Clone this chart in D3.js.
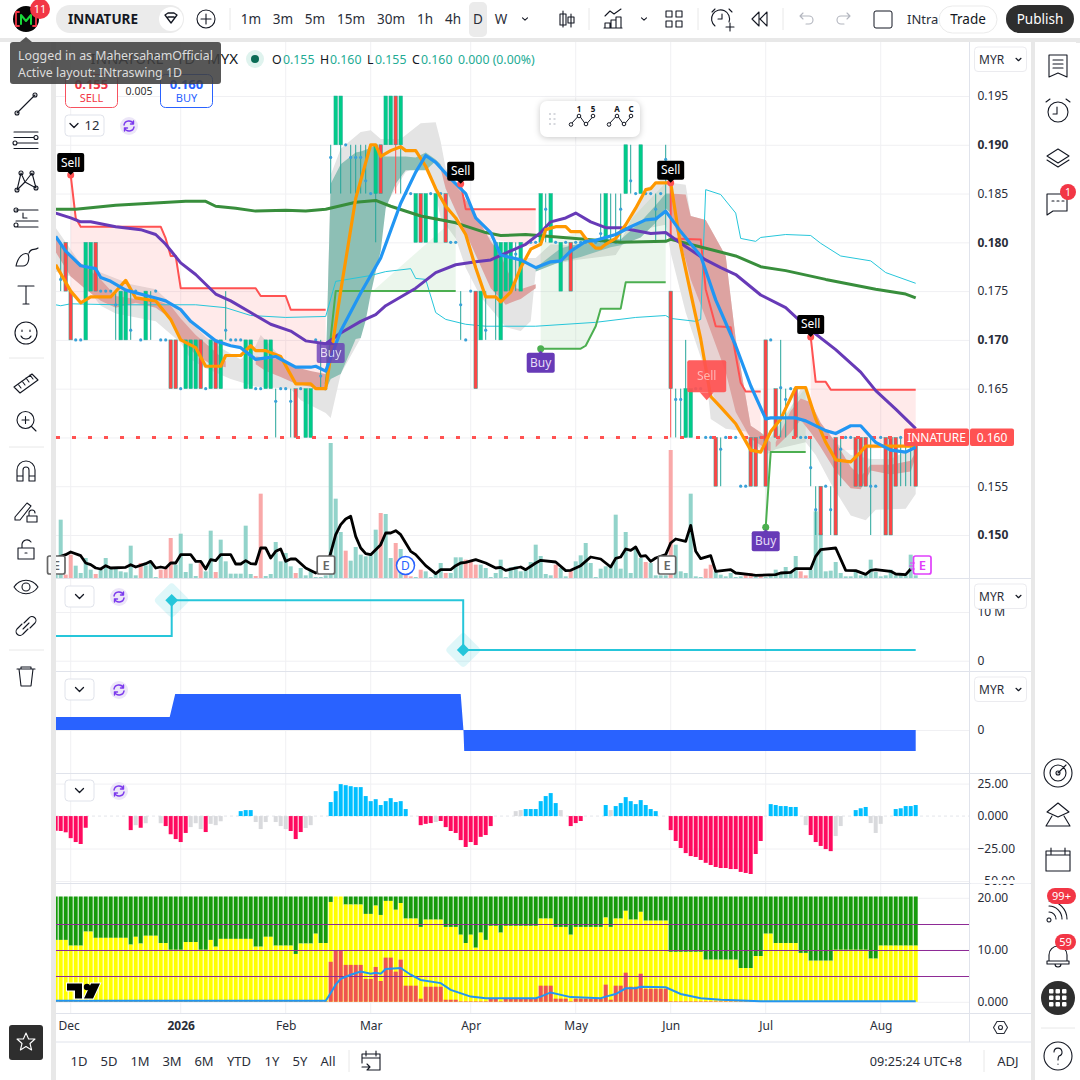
<!DOCTYPE html>
<html>
<head>
<meta charset="utf-8">
<title>INNATURE 1D</title>
<script src="https://cdnjs.cloudflare.com/ajax/libs/d3/7.8.5/d3.min.js"></script>
<style>
  html, body { margin: 0; padding: 0; background: #fff; }
  svg { display: block; font-family: "Noto Sans", sans-serif; }
</style>
</head>
<body>
<div id="chart"></div>
<script>
// ── Data ────────────────────────────────────────────────────
const monthIdx = [3, 25, 46, 63, 83, 104, 123, 142, 165];
const monthLabels = ['Dec', '2026', 'Feb', 'Mar', 'Apr', 'May', 'Jun', 'Jul', 'Aug'];
const priceTicks = [0.150, 0.155, 0.160, 0.165, 0.170, 0.175, 0.180, 0.185, 0.190, 0.195];
const boldTicks = [0.150, 0.170, 0.180, 0.190];
const lastPrice = 0.160;

// candles: [bar, bodyTop, bodyBottom, wickLow?, wickHigh?]
const greenCandles = [[6,.180,.170],[7,.180,.175],[13,.175,.170],[14,.175,.170],[18,.175,.170],[26,.170,.165],[27,.170,.165],[28,.170,.165],
  [31,.170,.165],[33,.170,.165],[38,.170,.165],[39,.170,.165],[42,.170,.165],[43,.170,.165],[50,.165,.160],[51,.165,.160],[56,.195,.190],
  [57,.195,.190,.185],[64,.190,.185,.180],[66,.195,.190],[67,.195,.190],[69,.195,.190,.185],[72,.185,.180],[74,.185,.180],[76,.185,.180],
  [85,.175,.170],[88,.180,.175,.170],[89,.180,.170],[90,.180,.175],[91,.180,.175],[93,.180,.175],[97,.185,.180],[99,.185,.180],[101,.180,.175],
  [110,.185,.180],[114,.190,.185],[117,.190,.185],[126,.165,.160,.160,.170],[127,.165,.160]];
const redCandles = [[2,.180,.175],[3,.175,.170],[8,.180,.175],[23,.170,.165],[24,.170,.165],[29,.170,.165],[32,.170,.165],[48,.165,.160],
  [65,.190,.185],[68,.195,.190,.185],[73,.185,.180],[78,.185,.180],[84,.175,.165],[103,.180,.175],[123,.175,.165,.160],[132,.160,.155],
  [139,.160,.155],[140,.160,.155],[142,.170,.155],[144,.165,.160],[148,.165,.160],[153,.155,.150],[156,.160,.150],[160,.160,.155],[161,.160,.155],
  [162,.160,.155],[166,.160,.150],[167,.160,.150],[168,.160,.155],[172,.160,.155]];
// thin bars: [bar, high, low, mid dot]
const thinBars = [[1,.180,.175,.1762],[12,.175,.170,.1736],[15,.175,.170,.171],[19,.175,.170,.174],[34,.175,.170,.171],[44,.165,.160,.1637],
  [47,.165,.160,.1637],[53,.170,.165,.1663],[55,.190,.185,.1887],[59,.190,.185,.1887],[60,.190,.185,.1887],[61,.190,.185,.1887],[62,.190,.185,.1863],
  [81,.175,.170,.1736],[86,.175,.170,.171],[92,.180,.175,.1788],[98,.185,.180,.1834],[109,.185,.180,.1809],[111,.185,.180,.180],[112,.185,.180,.180],
  [113,.185,.180,.1834],[115,.190,.185,.1863],[120,.185,.180,.1834],[122,.190,.180,.1885],[124,.165,.160,.1639],[125,.165,.160,.1639],
  [133,.160,.155,.1588],[145,.170,.160,.1651],[146,.165,.160,.1639],[151,.160,.155,.1569],[152,.155,.150,.1526],[155,.155,.150,.1526],
  [157,.160,.155,.1588],[163,.160,.150,.155],[169,.160,.155,.160],[170,.160,.155,.160],[171,.160,.155,.160]];
// flat bars, drawn as a dot: [bar, price]
const flatBars = [[4,.170],[5,.170],[9,.175],[10,.175],[11,.175],[16,.175],[17,.170],[20,.175],[21,.170],[22,.170],[25,.165],[30,.165],[35,.170],[36,.170],
  [37,.170],[40,.165],[41,.165],[45,.165],[46,.165],[49,.165],[52,.170],[54,.165],[58,.190],[63,.185],[70,.185],[71,.185],[75,.185],[77,.185],[79,.180],[80,.180],
  [82,.170],[83,.175],[95,.180],[96,.180],[100,.180],[102,.180],[104,.180],[105,.180],[106,.180],[107,.180],[108,.180],[116,.185],[118,.185],[119,.185],[121,.185],
  [128,.165],[129,.165],[130,.160],[131,.160],[134,.160],[135,.160],[136,.160],[137,.155],[138,.155],[141,.160],[143,.170],[147,.165],[149,.160],[150,.160],
  [154,.155],[158,.160],[159,.160],[164,.155],[165,.160]];

const orangeLine = [[0,.1777],[3,.175],[5,.1738],[7,.1744],[11,.1744],[14,.1761],[16,.1743],[20,.174],[23,.1721],[25,.17],[28,.1692],[30,.1673],[33,.1673],[34,.1684],
  [37,.1684],[39,.1694],[40,.1689],[42,.1689],[45,.1683],[48,.1655],[51,.1655],[52,.165],[54,.165],[57,.175],[60,.1845],[63,.19],[64,.19],[65,.1888],[67,.1894],[69,.1898],
  [70,.1894],[72,.1894],[74,.1878],[76,.1855],[78,.1837],[80,.1825],[82,.1808],[84,.1774],[86,.1744],[88,.1744],[89,.1739],[91,.1749],[93,.1774],[95,.1793],[97,.1798],
  [98,.1813],[100,.1816],[102,.1816],[103,.1811],[105,.1811],[106,.1804],[108,.1794],[109,.1794],[110,.1798],[112,.1804],[114,.1818],[116,.1835],[118,.1854],[119,.1855],
  [120,.1861],[122,.1861],[123,.1861],[125,.1796],[127,.1748],[129,.1701],[131,.1642],[133,.1631],[136,.1614],[139,.1587],[141,.1585],[143,.1606],[145,.1619],[148,.1651],
  [150,.1651],[152,.1619],[154,.1595],[156,.1577],[159,.1575],[161,.1585],[162,.1591],[172,.1591]];
const blueLine = [[0,.1806],[2,.1791],[5,.1776],[8,.1773],[9,.1764],[11,.176],[14,.1751],[20,.1743],[22,.174],[25,.1731],[27,.1719],[30,.1707],[32,.1699],[35,.1694],
  [37,.1692],[40,.168],[44,.1683],[48,.1672],[51,.1672],[52,.1673],[54,.1668],[57,.1709],[61,.1748],[65,.1784],[69,.184],[72,.1872],[74,.1889],[76,.1882],[79,.1865],
  [82,.185],[84,.1825],[87,.181],[89,.1787],[93,.1782],[96,.1774],[99,.178],[101,.1781],[103,.1791],[106,.1801],[108,.1802],[112,.1808],[115,.1816],[118,.1823],[120,.1824],
  [122,.1832],[125,.1811],[129,.1786],[132,.1741],[136,.1694],[139,.1653],[142,.1619],[143,.162],[148,.162],[150,.1617],[154,.1607],[156,.1604],[159,.1612],[161,.1612],
  [164,.1595],[167,.1587],[170,.1585],[172,.159]];
const purpleLine = [[0,.183],[3,.1825],[5,.1821],[7,.1821],[12,.1816],[17,.1813],[20,.1808],[22,.1798],[25,.1779],[28,.1767],[32,.1747],[35,.174],[39,.1728],[43,.1716],
  [47,.1709],[50,.1699],[54,.1696],[57,.1707],[61,.1719],[64,.1726],[66,.1735],[72,.1753],[76,.1769],[80,.1777],[84,.178],[87,.1782],[90,.1789],[94,.1798],[97,.181],
  [99,.1821],[102,.1825],[104,.183],[107,.1821],[110,.1815],[113,.1815],[119,.1809],[122,.181],[125,.1799],[130,.1782],[133,.1774],[136,.1767],[141,.1746],[146,.1733],
  [150,.1714],[156,.169],[161,.1667],[164,.1648],[168,.1629],[172,.1609]];
const greenLine = [[0,.1834],[4,.1834],[12,.1838],[19,.184],[26,.1842],[30,.1842],[32,.1837],[36,.1835],[40,.1832],[46,.1833],[50,.1832],[54,.1834],[60,.1841],[64,.1843],
  [67,.1837],[73,.1827],[80,.182],[86,.181],[89,.1807],[94,.1808],[99,.1806],[104,.1804],[113,.18],[122,.1801],[123,.1803],[130,.1794],[136,.1786],[141,.1775],[146,.1771],
  [154,.1762],[164,.1752],[170,.1747],[172,.1743]];
const cyanLine = [[0,.1736],[1,.1735],[3,.1737],[12,.1736],[28,.1736],[34,.1733],[39,.1725],[46,.1723],[54,.1724],[56,.176],[63,.1766],[66,.177],[71,.1773],[72,.1763],
  [74,.1762],[76,.1728],[78,.1721],[82,.1716],[86,.1714],[96,.1714],[108,.1718],[116,.1723],[122,.1725],[123,.1722],[128,.1719],[129,.1721],[130,.1854],[133,.1849],
  [136,.183],[137,.1804],[140,.1801],[141,.1805],[146,.1808],[151,.1807],[153,.1799],[157,.1786],[163,.1781],[166,.1769],[172,.1758]];

const sellStops = [
  [[3,.1869],[4,.1825],[5,.1816],[21,.1816],[22,.1804],[23,.1786],[24,.1786],[25,.1753],[40,.1753],[41,.1745],[46,.1745],[47,.1731],[54,.1731]],
  [[81,.186],[82,.1834],[96,.1834]],
  [[123,.1861],[123,.1804],[129,.1803],[130,.1752],[132,.1714],[135,.1713],[137,.1656],[138,.1647],[141,.1647]],
  [[151,.1703],[152,.1657],[154,.1657],[155,.1649],[172,.1649]]
];
const buyStops = [
  [[54,.1655],[56,.175],[80,.175]],
  [[97,.1691],[105,.1691],[106,.1694],[108,.1714],[109,.1732],[113,.1732],[114,.1759],[122,.1759]],
  [[142,.1508],[143,.1585],[150,.1585]]
];
const sellSignals = [[3,.1869],[81,.186],[123,.1861],[151,.1703]];
const buySignals = [[55,.1701],[97,.1691],[142,.1508]];
const alertSell = [130, .1638];

const greyUpper = [[0,.1815],[2,.18],[5,.1778],[9,.1769],[15,.1757],[20,.1752],[25,.1728],[30,.1703],[33,.1692],[37,.168],[40,.1694],[41,.1705],[44,.1688],[48,.1665],
  [54,.1655],[55,.1869],[57,.1896],[61,.1913],[63,.1915],[65,.1906],[69,.1906],[73,.1922],[76,.1923],[77,.1903],[78,.1876],[81,.1855],[84,.1818],[87,.1804],[89,.1787],
  [93,.1784],[96,.1784],[99,.1798],[105,.1796],[113,.1801],[118,.1855],[122,.1867],[123,.1861],[126,.1859],[127,.1827],[130,.1823],[134,.1786],[136,.1701],[139,.1612],
  [141,.1605],[143,.16],[147,.163],[149,.165],[150,.1651],[152,.1619],[156,.1595],[159,.1582],[163,.1578],[167,.1578],[172,.1591]];
const greyLower = [[0,.177],[5,.1762],[9,.1735],[12,.1727],[20,.1719],[25,.1697],[27,.168],[30,.1671],[35,.166],[40,.1652],[47,.165],[49,.1638],[54,.1625],[55,.162],[57,.1665],
  [61,.1702],[63,.1757],[66,.1838],[70,.1872],[74,.1881],[76,.1849],[77,.1825],[80,.1804],[82,.1774],[85,.1744],[88,.1726],[90,.1713],[93,.1709],[95,.1719],[96,.177],
  [99,.1777],[104,.1782],[112,.1787],[115,.1811],[122,.1818],[123,.1789],[126,.1728],[130,.1667],[131,.1619],[134,.1609],[138,.1606],[141,.1588],[142,.1582],[144,.1588],
  [150,.1595],[152,.1582],[155,.1553],[159,.152],[162,.1515],[164,.1526],[170,.1527],[172,.1542]];
// ribbons: [bar, upper, lower]
const redRibbons = [
  [[0,.1805,.179],[3,.1786,.1765],[6,.1775,.1752],[9,.1762,.174],[12,.1745,.1733],[16,.1742,.1738],[20,.1741,.1733],[23,.1735,.1722],[25,.1722,.17],[28,.1705,.1685],[31,.1692,.1675],[34,.1678,.1672]],
  [[40,.1683,.1675],[42,.1682,.1668],[45,.168,.1662],[48,.1672,.1655],[51,.1668,.1652],[54,.1665,.1648]],
  [[77,.188,.1875],[78,.1869,.1855],[81,.1852,.1821],[84,.1828,.1787],[87,.1801,.1753],[89,.1787,.1742],[90,.1775,.1736],[92,.1753,.174],[93,.1752,.1742],[96,.1757,.1753]],
  [[123,.185,.183],[126,.1849,.1782],[127,.1827,.1762],[130,.1823,.1723],[134,.1786,.1667],[136,.1701,.1626],[139,.1612,.1599],[141,.1605,.1592],[143,.1595,.1585]],
  [[144,.1595,.159],[147,.1627,.1605],[149,.164,.1618],[151,.1636,.1605],[153,.1615,.159],[156,.1595,.1565],[159,.157,.1548],[161,.156,.1547],[163,.1572,.1566],[167,.1572,.1562],[171,.1576,.1565],[172,.1585,.158]]
];
const tealRibbons = [
  [[54,.1665,.1648],[55,.186,.166],[57,.188,.1665],[60,.1892,.1701],[61,.1893,.1702],[62,.1895,.172],[63,.1897,.1747],[64,.19,.177],[65,.1889,.1791],[66,.1888,.1835],[68,.1888,.186],[70,.1888,.1874],[72,.1887,.1874],[74,.1892,.1874],[76,.1885,.1883],[77,.188,.1875]],
  [[96,.1774,.177],[101,.1794,.178],[105,.1799,.1785],[111,.1804,.1795],[113,.1803,.1797],[117,.1821,.1805],[120,.1838,.182],[122,.185,.1835],[123,.185,.183]]
];

const volumes = [10,175,10,70,37,15,60,25,12,25, 60,30,30,20,17,97,8,45,38,45, 3,25,30,120,40,133,18,43,6,45, 20,142,18,115,50,13,13,13,157,12,
  6,253,6,12,108,50,75,35,15,30, 8,22,3,3,8,405,238,138,82,52, 93,70,65,68,145,195,192,60,105,87, 45,5,3,25,20,3,12,45,15,15,
  62,62,55,50,40,40,30,3,15,55, 3,32,35,20,25,48,100,66,12,8, 40,30,5,22,50,68,105,45,3,28, 35,35,190,28,138,15,90,60,48,45,
  8,8,8,384,100,20,15,253,5,3, 28,40,20,10,5,15,3,5,10,15, 3,5,3,10,25,12,33,20,66,20, 8,25,200,135,20,22,48,15,5,5,
  18,8,8,55,18,5,8,25,8,10, 8,70,8];
const volumeDown = [2,3,8,17,21,22,23,29,32,40,41,48,58,65,68,70,71,73,78,82,83,84,100,103,118,123,130,131,138,139,141,149,150];
const blackLine = [[0,60],[2,70],[3,78],[5,67],[6,45],[7,40],[8,30],[9,27],[10,37],[11,30],[14,32],[15,40],[16,33],[18,43],[19,50],[20,30],[21,33],[22,30],[23,45],[24,45],[25,70],[27,70],
  [28,50],[29,50],[30,27],[31,55],[32,52],[33,70],[35,70],[36,42],[37,42],[38,52],[39,43],[40,42],[41,90],[42,90],[43,60],[44,80],[45,87],[46,50],[47,57],[48,57],[50,30],[52,15],
  [54,25],[55,75],[56,130],[57,160],[58,177],[59,185],[60,125],[61,90],[62,73],[63,70],[65,100],[66,135],[67,135],[68,142],[69,130],[71,80],[72,70],[74,37],[76,13],[77,25],[79,25],
  [80,37],[81,45],[82,47],[84,55],[86,45],[88,30],[89,32],[90,23],[92,30],[93,33],[94,25],[96,45],[97,53],[100,48],[102,22],[103,23],[105,37],[107,63],[109,57],[111,33],[112,59],
  [113,63],[114,87],[115,83],[116,93],[117,65],[118,67],[119,50],[120,60],[122,70],[123,105],[124,117],[126,110],[127,158],[128,80],[129,58],[131,67],[132,20],[135,25],[136,15],
  [139,10],[140,8],[144,10],[145,15],[147,17],[148,28],[151,28],[152,65],[153,85],[156,90],[158,23],[160,22],[162,11],[163,23],[164,25],[167,20],[168,12],[170,10],[171,27]];

const stepIdx = [-1, 23.2, 23.2, 81.5, 81.5, 172];
const stepVal = [5.07, 5.07, 12.4, 12.4, 2.2, 2.2];
const bandIdx = [-1, 22.8, 23.9, 81, 81.55, 81.7, 172];
const bandTop = [13, 13, 36, 36, 0, 0, 0];
const bandBottom = [0, 0, 0, 0, 0, -21, -21];

const histogram = [-11.3,-11.5,-12.5,-17,-20,-21.5,-9,0,0,0, 0,0,0,0,0,-10.8,-7,-9,-5.5,0, 0,-5.5,-7.7,-14,-17.7,-20,-13,-8.5,-5.5,-10, -12.3,-6,-7,-4,0,0,0,3.8,4.6,4.6,
  -4.6,-10,-4.6,0,-4.6,-7.7,-10,-11.5,-17.7,-12.3, -9.2,-7,0,0,0,10.8,19.2,24.6,23.8,23, 22.3,22.3,15.4,11.5,13,8.5,11.5,13.8,10.8,11.5, 5.4,0,0,-7,-6,-5.4,-4.6,-3.8,-8.5,-11.5,
  -13,-18.5,-23.8,-20,-22.3,-16,-14.6,-7.7,0,0, 0,0,3.8,4.6,5.4,5.4,5.4,11.5,15.4,17.7, 10,4.6,0,-7.7,-5.4,-3.8,0,0,0,0, 8.5,4.6,7.7,10,14.6,11.5,9.2,12.3,8.5,5.4,
  3.8,0,0,-10.8,-19.2,-24.6,-28.5,-30.8,-31.5,-33.8, -36,-37.7,-39.2,-40,-40,-40.8,-40.8,-43,-43.8,-44.6, -29.2,-19.2,0,9.2,8.5,7.7,7.7,7,7,0,
  -7,-14.6,-20,-23,-25.4,-27,-15.4,-7.7,0,0, 4.6,6,7,-5.4,-13,-6,0,0,5.4,6, 7.7,7.7,8.5];
const histGrey = [16,18,21,27,28,29,31,32,33,40,41,42,44,45,46,50,51,76,92,93,101,111,150,156,157,163,164,165];

const yellowTops = [11.9,11.9,11.9,10.8,10.8,10.8,13.5,13.5,12.3,12.3, 12.3,12.3,12.3,12.3,12.3,11,12.5,11.2,12.7,12.7, 12.7,11.3,11.3,10,10,10,11.5,11.5,11.5,10,
  10,11.9,10.6,12.1,12.1,12.1,12.1,12.1,12.1,12.1, 10.6,10.6,12.5,12.5,10.8,10.8,10.8,10.8,9.2,11.2, 11.2,11.2,13.1,11.3,11.3,19.2,20.25,20.25,18.7,18.7,
  18.7,18.7,16.9,16.9,18.5,16.7,19.4,19.4,17.7,19, 16,16,16,14.4,15.8,15.8,15.8,15.8,14.4,14.4, 14.4,12.9,11.3,12.9,10.4,13.3,11.9,14.6,14.6,13.3,
  14.6,14.6,14.6,14.6,14.6,14.6,14.6,16,16,16, 14.4,14.4,14.4,12.9,14.4,14.4,14.4,14.4,14.4,14.4, 16.2,14.4,16,16,17.5,15.8,15.8,17.3,15.6,15.6,
  15.6,15.6,15.6,9.6,9.6,9.6,9.6,9.6,9.6,9.6, 8.1,8.1,8.1,8.1,8.1,8.1,8.1,6.5,6.5,6.5, 8.8,8.8,13.1,13.1,11.3,11.3,11.3,11.3,11.3,9.4,
  9.4,7.9,7.9,7.9,7.9,7.9,10,10,10,10, 10,10,10,8.3,8.3,10.8,10.8,10.8,10.8,10.8, 10.8,10.8,10.8];
const redTops = [.1,.1,.1,.1,.1,.1,.1,.1,.1,.1, .1,.1,.1,.1,.1,.1,.1,.1,.1,.1, .1,.1,.1,.1,.1,.1,.1,.1,.1,.1, .1,.1,.1,.1,.1,.1,.1,.1,.1,.1,
  .1,.1,.1,.1,.1,.1,.1,.1,.1,.1, .1,.1,.1,.1,.1,7.7,9.8,9.8,7.1,7.1, 7.1,7.1,4.4,4.4,6.7,4,8.5,8.5,5.8,8.1, 3.1,3.1,3.1,.6,2.9,2.9,2.9,2.9,.4,.4,
  .4,.1,.1,.1,.1,.1,.1,.6,.6,.1, .6,.6,.6,.7,.7,.7,.7,3.1,3.1,3.1, .6,.6,.6,.1,.6,.6,.6,.6,.6,.6, 3.3,.4,3.1,3.1,5.6,2.9,2.9,5.4,2.5,2.5,
  2.5,2.5,2.5,.1,.1,.1,.1,.1,.1,.1, .1,.1,.1,.1,.1,.1,.1,.1,.1,.1, .1,.1,0,0,0,0,0,0,0,0, 0,0,0,0,0,0,0,0,0,0, 0,0,0,0,0,0,0,0,0,0, 0,0,0];
const stackBlue = [[-1,.2],[54,.2],[55,1.7],[56,3.3],[57,4.4],[59,5.2],[61,5.8],[63,5.4],[64,5.6],[65,5.4],[66,6.3],[69,6.5],[71,5.2],[73,4.2],[77,3.6],[79,2.3],[83,1],[86,.7],[96,.7],
  [97,1],[99,1.8],[103,.9],[109,.7],[110,1],[112,1.5],[114,2.6],[116,2.6],[117,2.9],[122,2.8],[125,1.5],[129,.7],[133,.4],[141,.1],[172,.1]];
const stackLevels = [5, 10, 15];
const histTicks = [25, 0, -25, -50];
const stackTicks = [20, 10, 0];

const rangeLabels = ['1D', '5D', '1M', '3M', '6M', 'YTD', '1Y', '5Y', 'All'];
const intervalLabels = ['1m', '3m', '5m', '15m', '30m', '1h', '4h', 'D', 'W'];

// ── Scales ───────────────────────────────────────────────────
const W = 1080, H = 1080;
const left = 56, axisX = 969.5;
const x = d3.scaleLinear().domain([0, 172]).range([55.7, 915.7]);
const yMain = d3.scaleLinear().domain([0.150, 0.195]).range([535, 96]);
const yVol = d3.scaleLinear().domain([0, 405]).range([578, 443]);
const yStep = d3.scaleLinear().domain([0, 10]).range([660.7, 612]);
const yBand = d3.scaleLinear().domain([-21, 36]).range([751, 694]);
const yHist = d3.scaleLinear().domain([-50, 25]).range([881, 783.6]);
const yStack = d3.scaleLinear().domain([0, 20]).range([1001.8, 897.8]);

const svg = d3.select('#chart').append('svg').attr('width', W).attr('height', H);
const defs = svg.append('defs');
const clip = (id, a, b) => defs.append('clipPath').attr('id', id).append('rect')
  .attr('x', left).attr('y', a).attr('width', axisX - left).attr('height', b - a);
clip('clip-main', 42, 578);
clip('clip-step', 579, 671);
clip('clip-band', 672, 773);
clip('clip-hist', 774, 883);
clip('clip-stack', 884, 1013);

const sepColor = '#e0e3eb', gridColor = '#f0f0f3';

// ── Grid ────────────────────────────────────────────────────
const gridG = svg.append('g');
function hGrid(values, scale) {
  gridG.selectAll(null).data(values).join('line')
    .attr('x1', left).attr('x2', axisX)
    .attr('y1', d => scale(d) + .5).attr('y2', d => scale(d) + .5)
    .attr('stroke', gridColor);
}
hGrid(priceTicks, yMain);
hGrid([10, 0], yStep);
hGrid([0], yBand);
hGrid([25, -25, -50], yHist);
hGrid(stackTicks, yStack);
gridG.selectAll(null).data(monthIdx).join('line')
  .attr('x1', d => x(d)).attr('x2', d => x(d))
  .attr('y1', 42).attr('y2', 1013)
  .attr('stroke', gridColor);

// ── Main pane ────────────────────────────────────────────────
const main = svg.append('g').attr('clip-path', 'url(#clip-main)');

main.append('g').selectAll('rect').data(volumes).join('rect')
  .attr('x', (d, i) => x(i) - 2).attr('width', 4)
  .attr('y', d => yVol(d)).attr('height', d => yVol(0) - yVol(d))
  .attr('fill', (d, i) => volumeDown.includes(i) ? '#f9a9a9' : '#92d3ca');

const priceLine = d3.line().x(d => x(d[0])).y(d => yMain(d[1]));

// grey envelope
main.append('path')
  .attr('d', priceLine(greyUpper.concat(greyLower.slice().reverse())) + 'Z')
  .attr('fill', '#e4e4e4');

// light fills between the stop lines and the fast line
function orangeAt(i) {
  const j = d3.bisector(d => d[0]).left(orangeLine, i);
  if (j === 0) return orangeLine[0][1];
  const a = orangeLine[j - 1], b = orangeLine[j] || a;
  return b === a ? a[1] : a[1] + (b[1] - a[1]) * (i - a[0]) / (b[0] - a[0]);
}
const stopFill = d3.area().x(d => x(d[0])).y0(d => yMain(d[1])).y1(d => yMain(orangeAt(d[0])));
main.append('g').selectAll('path').data(sellStops).join('path')
  .attr('d', stopFill).attr('fill', 'rgba(255,82,82,0.12)');
main.append('g').selectAll('path').data(buyStops).join('path')
  .attr('d', stopFill).attr('fill', 'rgba(76,175,80,0.11)');

// ribbon
const ribbon = d3.area().x(d => x(d[0])).y0(d => yMain(d[1])).y1(d => yMain(d[2]));
main.append('g').selectAll('path').data(redRibbons).join('path')
  .attr('d', ribbon).attr('fill', '#dda3a1');
main.append('g').selectAll('path').data(tealRibbons).join('path')
  .attr('d', ribbon).attr('fill', '#8dbfb5');

// thin line and stops
function drawLine(data, color, width) {
  return main.append('path').attr('d', priceLine(data)).attr('fill', 'none')
    .attr('stroke', color).attr('stroke-width', width).attr('stroke-linejoin', 'round');
}
drawLine(cyanLine, '#26c6da', 1);

// candles
const wickColor = '#26a69a';
main.append('g').selectAll('line').data(thinBars).join('line')
  .attr('x1', d => x(d[0])).attr('x2', d => x(d[0]))
  .attr('y1', d => yMain(d[1])).attr('y2', d => yMain(d[2]))
  .attr('stroke', wickColor);
main.append('g').selectAll('circle').data(thinBars).join('circle')
  .attr('cx', d => x(d[0])).attr('cy', d => yMain(d[3])).attr('r', 1.6).attr('fill', '#3aa2d8');
main.append('g').selectAll('circle').data(flatBars).join('circle')
  .attr('cx', d => x(d[0])).attr('cy', d => yMain(d[1])).attr('r', 1.6).attr('fill', '#3aa2d8');

function drawCandles(rows, fill, wick) {
  const g = main.append('g');
  g.selectAll('line').data(rows.filter(d => d.length > 3)).join('line')
    .attr('x1', d => x(d[0])).attr('x2', d => x(d[0]))
    .attr('y1', d => yMain(d[4] || d[1])).attr('y2', d => yMain(d[3]))
    .attr('stroke', wick);
  g.selectAll('rect').data(rows).join('rect')
    .attr('x', d => x(d[0]) - 1.75).attr('width', 3.5)
    .attr('y', d => yMain(d[1])).attr('height', d => yMain(d[2]) - yMain(d[1]))
    .attr('fill', fill).attr('stroke', wickColor).attr('stroke-width', .5);
}
drawCandles(greenCandles, '#00cc88', wickColor);
drawCandles(redCandles, '#ff4545', '#ff5252');

sellStops.forEach(d => drawLine(d, '#ff5252', 2));
buyStops.forEach(d => drawLine(d, '#4caf50', 2));

// last price dashes
main.append('line')
  .attr('x1', 56).attr('x2', 905)
  .attr('y1', yMain(lastPrice)).attr('y2', yMain(lastPrice))
  .attr('stroke', '#ff5252').attr('stroke-width', 3).attr('stroke-dasharray', '4 12');

drawLine(greenLine, '#388e3c', 3);
drawLine(purpleLine, '#673ab7', 3);
drawLine(orangeLine, '#ff9800', 3.2);
drawLine(blueLine, '#2196f3', 3.2);

// volume pane line
main.append('path')
  .attr('d', d3.line().x(d => x(d[0])).y(d => yVol(d[1]))(blackLine))
  .attr('fill', 'none').attr('stroke', '#000').attr('stroke-width', 2.8).attr('stroke-linejoin', 'round');

// signal flags
function flag(cx, cy, label, fill, w, h, textFill, opacity) {
  const g = svg.append('g').attr('opacity', opacity === undefined ? 1 : opacity);
  g.append('rect').attr('x', cx - w / 2).attr('y', cy - h / 2).attr('width', w).attr('height', h)
    .attr('rx', 2).attr('fill', fill);
  g.append('text').attr('x', cx).attr('y', cy + 4).attr('text-anchor', 'middle')
    .attr('font-size', 12).attr('fill', textFill).text(label);
  return g;
}
sellSignals.forEach(d => {
  svg.append('circle').attr('cx', x(d[0])).attr('cy', yMain(d[1])).attr('r', 3.5).attr('fill', '#ff5252');
  svg.append('path').attr('d', `M${x(d[0]) - 4},${yMain(d[1]) - 4}h8l-4,4z`).attr('fill', '#000');
  flag(x(d[0]), yMain(d[1]) - 12.5, 'Sell', '#000', 27, 19, '#fff');
});
buySignals.forEach((d, n) => {
  if (n > 0) svg.append('circle').attr('cx', x(d[0])).attr('cy', yMain(d[1])).attr('r', 3.5).attr('fill', '#4caf50');
  svg.append('path').attr('d', `M${x(d[0]) - 4},${yMain(d[1]) + 6}h8l-4,-4z`).attr('fill', '#673ab7');
  flag(x(d[0]), yMain(d[1]) + 14, 'Buy', '#673ab7', 28, 20, '#e6dcf7', n === 0 ? 0.78 : 1);
});
const alertG = flag(x(alertSell[0]) + 1, yMain(alertSell[1]) - 24, 'Sell', '#ff5252', 39, 32, '#ffb3b3', 0.92);
alertG.append('path')
  .attr('d', `M${x(alertSell[0]) - 6},${yMain(alertSell[1]) - 8}h14l-7,8z`).attr('fill', '#ff5252');

// event badges
function eventBadge(cx, text, stroke) {
  svg.append('rect').attr('x', cx - 8.5).attr('y', 556).attr('width', 17.5).attr('height', 18).attr('rx', 2)
    .attr('fill', '#fff').attr('stroke', stroke).attr('stroke-width', 1.7);
  svg.append('text').attr('x', cx + .5).attr('y', 570).attr('text-anchor', 'middle')
    .attr('font-size', 13).attr('font-weight', 600).attr('fill', stroke).text(text);
}
eventBadge(56, 'E', '#666');
eventBadge(325.7, 'E', '#666');
eventBadge(666.7, 'E', '#666');
eventBadge(922, 'E', '#e040fb');
svg.append('path').attr('d', 'M910,563h5M909,566h5M910,569h5').attr('fill', 'none').attr('stroke', '#e040fb').attr('stroke-width', 1);
svg.append('circle').attr('cx', 405.5).attr('cy', 565.5).attr('r', 9).attr('fill', '#fff').attr('stroke', '#2962ff').attr('stroke-width', 1.5);
svg.append('text').attr('x', 405.5).attr('y', 570).attr('text-anchor', 'middle').attr('font-size', 12).attr('fill', '#2962ff').text('D');

// ── Step pane ────────────────────────────────────────────────
const stepG = svg.append('g').attr('clip-path', 'url(#clip-step)');
const stepLine = d3.line().x(d => x(d[0])).y(d => yStep(d[1]));
stepG.append('path').attr('d', stepLine(d3.zip(stepIdx, stepVal))).attr('fill', 'none')
  .attr('stroke', '#26c6da').attr('stroke-width', 2);
[[stepIdx[2], stepVal[2]], [stepIdx[4], stepVal[4]]].forEach(d => {
  const cx = x(d[0]), cy = yStep(d[1]);
  stepG.append('rect').attr('x', cx - 13).attr('y', cy - 13).attr('width', 26).attr('height', 26).attr('rx', 4)
    .attr('transform', `rotate(45 ${cx} ${cy})`).attr('fill', 'rgba(38,198,218,0.15)');
  stepG.append('rect').attr('x', cx - 4.5).attr('y', cy - 4.5).attr('width', 9).attr('height', 9)
    .attr('transform', `rotate(45 ${cx} ${cy})`).attr('fill', '#26c6da');
});

// ── Band pane ────────────────────────────────────────────────
svg.append('g').attr('clip-path', 'url(#clip-band)').append('path')
  .attr('d', d3.area().x(d => x(d[0])).y0(d => yBand(d[2])).y1(d => yBand(d[1]))(d3.zip(bandIdx, bandTop, bandBottom)))
  .attr('fill', '#2962ff');

// ── Histogram pane ───────────────────────────────────────────
const histG = svg.append('g').attr('clip-path', 'url(#clip-hist)');
histG.append('line').attr('x1', left).attr('x2', axisX).attr('y1', yHist(0)).attr('y2', yHist(0))
  .attr('stroke', '#e3e5ea').attr('stroke-dasharray', '3 3');
histG.selectAll('rect').data(histogram).join('rect')
  .attr('x', (d, i) => x(i) - 2).attr('width', 4)
  .attr('y', d => Math.min(yHist(d), yHist(0)))
  .attr('height', d => Math.abs(yHist(d) - yHist(0)))
  .attr('fill', (d, i) => histGrey.includes(i) ? '#d9dadd' : d > 0 ? '#00bfff' : '#ff0a5f');

// ── Stack pane ───────────────────────────────────────────────
const stackG = svg.append('g').attr('clip-path', 'url(#clip-stack)');
const stackTop = 20.25;
stackG.append('g').selectAll('rect').data(yellowTops).join('rect')
  .attr('x', (d, i) => x(i) - 2).attr('width', 4)
  .attr('y', yStack(stackTop)).attr('height', d => yStack(d) - yStack(stackTop))
  .attr('fill', '#169b0b');
stackG.append('g').selectAll('rect').data(yellowTops).join('rect')
  .attr('x', (d, i) => x(i) - 2).attr('width', 4)
  .attr('y', d => yStack(d)).attr('height', d => yStack(0) - yStack(d))
  .attr('fill', '#ffff00');
stackG.append('g').selectAll('rect').data(redTops).join('rect')
  .attr('x', (d, i) => x(i) - 2).attr('width', 4)
  .attr('y', d => yStack(d)).attr('height', d => yStack(0) - yStack(d))
  .attr('fill', '#ef5350');
stackG.append('g').selectAll('line').data(stackLevels).join('line')
  .attr('x1', left).attr('x2', axisX)
  .attr('y1', d => Math.round(yStack(d)) + .5).attr('y2', d => Math.round(yStack(d)) + .5)
  .attr('stroke', '#8e2a96');
stackG.append('path').attr('d', d3.line().x(d => x(d[0])).y(d => yStack(d[1]))(stackBlue))
  .attr('fill', 'none').attr('stroke', '#2196f3').attr('stroke-width', 2);

// TV watermark
const tv = svg.append('g').attr('transform', 'translate(67,983.5)');
tv.append('path').attr('d', 'M0,0h15v15h-7v-8h-8z M17,15l7,-15h9l-7,15z').attr('fill', '#000').attr('stroke', '#fff').attr('stroke-width', 2).attr('paint-order', 'stroke');
tv.append('circle').attr('cx', 20).attr('cy', 3.5).attr('r', 3.2).attr('fill', '#000');

// ── Axes ─────────────────────────────────────────────────────
function rightAxis(scale, ticks, fmt) {
  const g = svg.append('g').attr('transform', `translate(${axisX},0)`)
    .call(d3.axisRight(scale).tickValues(ticks).tickSize(0).tickPadding(8).tickFormat(fmt));
  g.select('.domain').remove();
  g.selectAll('text').attr('font-family', '"Noto Sans", sans-serif').attr('font-size', 12).attr('fill', '#2a2e39');
  return g;
}
const priceAxis = rightAxis(yMain, priceTicks, d3.format('.3f'));
priceAxis.selectAll('text').attr('font-weight', d => boldTicks.includes(d) ? 700 : 400);

const fmtHist = d => d === 0 ? '0.000' : d3.format('.2f')(d).replace('-', '−');
rightAxis(yStep, [10, 0], d => d === 0 ? '0' : '10 M');
rightAxis(yBand, [0], () => '0');
rightAxis(yHist, histTicks, fmtHist);
rightAxis(yStack, stackTicks, fmtHist);

const timeAxis = svg.append('g').attr('transform', 'translate(0,1021)')
  .call(d3.axisBottom(x).tickValues(monthIdx).tickSize(0).tickPadding(0).tickFormat((d, i) => monthLabels[i]));
timeAxis.select('.domain').remove();
timeAxis.selectAll('text').attr('font-family', '"Noto Sans", sans-serif').attr('font-size', 12).attr('fill', '#2a2e39')
  .attr('font-weight', d => d === 25 ? 700 : 400);
timeAxis.selectAll('text').filter(d => d === 3).attr('dx', -2);

// ── Chrome: separators and gutters ───────────────────────────
const frame = svg.append('g');
frame.selectAll('rect').data([[0, 38, W, 4], [51, 38, 5, H - 38], [1031, 38, 4, H - 38], [1076, 38, 4, 5]]).join('rect')
  .attr('x', d => d[0]).attr('y', d => d[1]).attr('width', d => d[2]).attr('height', d => d[3]).attr('fill', '#e8e8e8');
frame.selectAll('line.sep').data([578.5, 671.5, 773.5, 883.5, 1013.5, 1042]).join('line')
  .attr('x1', left).attr('x2', 1031).attr('y1', d => d).attr('y2', d => d).attr('stroke', sepColor);
frame.append('line').attr('x1', axisX).attr('x2', axisX).attr('y1', 42).attr('y2', 1042).attr('stroke', sepColor);
frame.append('rect').attr('x', axisX + 1).attr('y', 880).attr('width', 60).attr('height', 3.5).attr('fill', '#fff');

function button(xp, yp, w, h, stroke) {
  return svg.append('rect').attr('x', xp).attr('y', yp).attr('width', w).attr('height', h).attr('rx', 3.5)
    .attr('fill', '#fff').attr('stroke', stroke || '#e0e3eb');
}
function label(xp, yp, text, size, color, anchor, weight) {
  return svg.append('text').attr('x', xp).attr('y', yp).attr('font-size', size).attr('fill', color || '#131722')
    .attr('text-anchor', anchor || 'start').attr('font-weight', weight || 400).text(text);
}
function icon(cx, cy, d, opts) {
  opts = opts || {};
  return svg.append('path').attr('transform', `translate(${cx},${cy})`).attr('d', d)
    .attr('fill', opts.fill || 'none').attr('stroke', opts.stroke || '#131722')
    .attr('stroke-width', opts.width || 1.1).attr('stroke-linejoin', 'round').attr('stroke-linecap', 'round');
}
const chevron = 'M-4,-2L0,2L4,-2';
const chevronSmall = 'M-2.5,-1.2L0,1.2L2.5,-1.2';

// MYR selectors
[47, 584, 677].forEach(yp => {
  button(974.5, yp, 52, 24.5, '#ebebef');
  label(979, yp + 16.5, 'MYR', 12, '#2a2e39');
  icon(1018.5, yp + 12.5, chevronSmall, { width: 1.2 });
});
// pane controls
[[65, 115, 39], [65, 586, 29], [65, 679, 29], [65, 780, 29]].forEach(d => {
  button(d[0], d[1], d[2], 21);
  icon(d[0] + (d[2] > 30 ? 9 : 14.5), d[1] + 10.5, chevron, { width: 1.3 });
  const cy = d[1] + 11, cx = d[2] > 30 ? 129 : 119;
  svg.append('circle').attr('cx', cx).attr('cy', cy).attr('r', 9).attr('fill', '#ece6f8');
  icon(cx, cy, 'M-5,-1A5,5 0 0 1 4.5,-2M5,1A5,5 0 0 1 -4.5,2M4.5,-5V-2H1.5M-4.5,5V2H-1.5', { stroke: '#7c3aed', width: 1.4 });
});
label(92, 130, '12', 13, '#2a2e39', 'middle');

// legend + order buttons
label(238, 64, 'INNATURE · 1D · MYX', 15, '#131722', 'end');
svg.append('circle').attr('cx', 255).attr('cy', 59).attr('r', 9).attr('fill', '#dff3ee');
svg.append('circle').attr('cx', 255).attr('cy', 59).attr('r', 4).attr('fill', '#0a6b55');
const ohlc = [['O', '0.155', 272, 283], ['H', '0.160', 320, 330], ['L', '0.155', 367, 375], ['C', '0.160', 412, 421]];
ohlc.forEach(d => {
  label(d[2], 63.5, d[0], 12.3, '#131722');
  label(d[3], 63.5, d[1], 12.3, '#22ab94');
});
label(458, 63.5, '0.000 (0.00%)', 12.3, '#22ab94');

button(65.5, 74.5, 52, 33, '#f7525f').attr('rx', 5);
button(160.5, 74.5, 52, 33, '#2962ff').attr('rx', 5);
label(91.5, 89, '0.155', 13, '#f23645', 'middle', 700);
label(91.5, 102, 'SELL', 11, '#f23645', 'middle');
label(186.5, 89, '0.160', 13, '#2962ff', 'middle', 700);
label(186.5, 102, 'BUY', 11, '#2962ff', 'middle');
label(139, 95, '0.005', 10.5, '#333', 'middle');

// last price labels
svg.append('rect').attr('x', 904).attr('y', 428.5).attr('width', 65).attr('height', 17.5).attr('rx', 2).attr('fill', '#ff5252');
svg.append('rect').attr('x', 970).attr('y', 428.5).attr('width', 44).attr('height', 17.5).attr('rx', 2).attr('fill', '#ff5252');
label(936.5, 442, 'INNATURE', 12, '#fff', 'middle');
label(992, 442, '0.160', 12, '#fff', 'middle');

// floating wave toolbar
svg.append('rect').attr('x', 540).attr('y', 101).attr('width', 100).attr('height', 36).attr('rx', 7).attr('fill', '#fff')
  .style('filter', 'drop-shadow(0 1px 3px rgba(0,0,0,.22))');
d3.range(2).forEach(c => d3.range(3).forEach(r => svg.append('rect').attr('x', 549 + c * 4.5).attr('y', 113 + r * 5).attr('width', 2).attr('height', 2).attr('fill', '#d6d8dd')));
[[571, '1', '5'], [609, 'A', 'C']].forEach(d => {
  icon(d[0], 120, 'M0,4L7,-3.5M9,-3.5L14,3.5M16,3.5L22,-3.5', { width: 1 });
  [[0, 4.5], [8, -4], [15, 4], [22, -4]].forEach(p => svg.append('circle').attr('cx', d[0] + p[0]).attr('cy', 120 + p[1]).attr('r', 1.8).attr('fill', '#fff').attr('stroke', '#131722'));
  label(d[0] + 8, 112, d[1], 8, '#131722', 'middle', 700);
  label(d[0] + 22, 112, d[2], 8, '#131722', 'middle', 700);
});

// ── Top toolbar ──────────────────────────────────────────────
svg.append('circle').attr('cx', 26).attr('cy', 19).attr('r', 13).attr('fill', '#050505');
icon(26, 19, 'M-5,5V-4L0,2L5,-4V5', { stroke: '#19d639', width: 2 });
icon(26, 19, 'M-7,-7H-10V7H-7M7,-7H10V7H7', { stroke: '#f23645', width: 1.8 });
svg.append('circle').attr('cx', 40).attr('cy', 9).attr('r', 10).attr('fill', '#f23645');
label(40, 13, '11', 11, '#fff', 'middle');
svg.append('rect').attr('x', 56).attr('y', 5).attr('width', 128).attr('height', 28).attr('rx', 14).attr('fill', '#ebebeb');
label(68, 24, 'INNATURE', 13.5, '#131722', 'start', 700);
svg.append('circle').attr('cx', 171).attr('cy', 19).attr('r', 12).attr('fill', '#fff');
icon(171, 19, 'M-6,-4L-3,-6H3L6,-4L0,4ZM-3,-2H3', { width: 1.3 });
icon(206, 19, 'M-9,0A9,9 0 1 1 9,0A9,9 0 1 1 -9,0M-5,0H5M0,-5V5', {});
svg.append('rect').attr('x', 469).attr('y', 2).attr('width', 18).attr('height', 35).attr('rx', 5).attr('fill', '#ebebeb');
const intervalX = [251, 283, 315, 351, 391, 425, 453, 478, 501];
intervalLabels.forEach((d, i) => label(intervalX[i], 24, d, 13.5, '#2a2e39', 'middle'));
icon(525, 19, chevronSmall, { width: 1.1 });
[230, 589, 698, 783].forEach(xp => svg.append('line').attr('x1', xp).attr('x2', xp).attr('y1', 8).attr('y2', 30).attr('stroke', '#e8e8e8'));
icon(567, 19, 'M-4,-8V8M-7,-5H-1V6H-7ZM4,-5V8M1,-2H7V4H1Z', {});
icon(613, 19, 'M-8,-3L-3,-8L1,-5L8,-10M-8,9V4H-3V9ZM-2,9V1H3V9ZM3,9V-2H8V9ZM-9,9H9', {});
icon(644, 19, chevronSmall, {});
icon(674, 19, 'M-8,-8h6v6h-6zM2,-8h6v6h-6zM-8,2h6v6h-6zM2,2h6v6h-6z', {});
icon(722, 19, 'M-7,7A9,9 0 1 1 7,3M0,-5V0H-4M-10,-7L-7,-10M10,-7L7,-10M4,8H12M8,4V12', {});
icon(760, 19, 'M-1,-7L-8,0L-1,7ZM7,-7L0,0L7,7Z', {});
icon(806, 19, 'M-6,-3H3A4,4 0 0 1 3,5H0M-6,-3L-3,-6M-6,-3L-3,0', { stroke: '#b2b5be' });
icon(844, 19, 'M6,-3H-3A4,4 0 0 0 -3,5H0M6,-3L3,-6M6,-3L3,0', { stroke: '#b2b5be' });
svg.append('rect').attr('x', 874).attr('y', 11).attr('width', 18).attr('height', 17).attr('rx', 2).attr('fill', 'none').attr('stroke', '#131722');
label(907, 24, 'INtra', 13, '#2a2e39');
svg.append('rect').attr('x', 939).attr('y', 6).attr('width', 58).attr('height', 27).attr('rx', 13.5).attr('fill', '#fff').attr('stroke', '#ebebeb');
label(968, 24, 'Trade', 13.5, '#131722', 'middle');
svg.append('rect').attr('x', 1006).attr('y', 5).attr('width', 68).attr('height', 28).attr('rx', 14).attr('fill', '#2e2e2e');
label(1040, 24, 'Publish', 13.5, '#fff', 'middle');

// ── Left toolbar icons ───────────────────────────────────────
const leftIcons = [
  [104, 'M-9,9L9,-9M-11,9A2,2 0 1 1 -7,9A2,2 0 1 1 -11,9M7,-9A2,2 0 1 1 11,-9A2,2 0 1 1 7,-9'],
  [143, 'M-12,-11H12M-12,-5.5H8M-9,0H12M-12,5.5H12M8,-5.5A2,2 0 1 0 12,-5.5A2,2 0 1 0 8,-5.5M-13,0A2,2 0 1 0 -9,0A2,2 0 1 0 -13,0'],
  [181, 'M-9,9L-5,-8L-1,1L6,-8L10,7L-1,1ZM-11,9A2,2 0 1 0 -7,9A2,2 0 1 0 -11,9M-7,-8A2,2 0 1 0 -3,-8A2,2 0 1 0 -7,-8M4,-8A2,2 0 1 0 8,-8A2,2 0 1 0 4,-8M8,7A2,2 0 1 0 12,7A2,2 0 1 0 8,7'],
  [219, 'M-10,-9H12M-10,8H12M-10,2H12M-12,-9A2,2 0 1 0 -8,-9A2,2 0 1 0 -12,-9M-12,6A2,2 0 1 0 -8,6A2,2 0 1 0 -12,6M-3,-6V-1H1'],
  [257, 'M-10,9C-8,0 -3,-5 2,-3C4,2 2,9 -3,9ZM3,-4C5,-10 9,-6 12,-9'],
  [295, 'M-8,-9H8M0,-9V9M-3,9H3'],
  [333, 'M-11,0A11,11 0 1 1 11,0A11,11 0 1 1 -11,0M-4,-3V-1.5M4,-3V-1.5M-5,3C-3,7 3,7 5,3'],
  [383, 'M-12,4L6,-9L12,-3L-6,10ZM-8,1L-5,5M-4,-2L-1,2M0,-5L3,-1M4,-8L7,-4'],
  [421, 'M-9,-1A8.5,8.5 0 1 1 8,-1A8.5,8.5 0 1 1 -9,-1M6,6L10,10M-4,-1H3M-0.5,-4.5V2.5'],
  [472, 'M-9,9V-2A9,9 0 0 1 9,-2V9H3V-2A3,3 0 0 0 -3,-2V9ZM-9,4H-3M3,4H9'],
  [511, 'M-11,6L1,-8L5,-5L-6,9H-11ZM1,5h10v6h-10zM3,5V2A3,3 0 0 1 9,2'],
  [549, 'M-8,-1h16v11h-16zM-4,-1V-5A5,5 0 0 1 5,-7M-1,4h2'],
  [587, 'M-12,0C-6,-9 6,-9 12,0C6,9 -6,9 -12,0ZM-4,0A4,4 0 1 1 4,0A4,4 0 1 1 -4,0'],
  [626, 'M-2,-3L3,-8A3.5,3.5 0 0 1 9,-3L4,2M2,3L-3,8A3.5,3.5 0 0 1 -9,3L-4,-2M-3,3L3,-3'],
  [676, 'M-9,-7H9M-5,-7V-9H5V-7M-7,-7L-5,10H5L7,-7']
];
leftIcons.forEach(d => icon(26, d[0], d[1], {}));
[358, 447, 650].forEach(yp => svg.append('line').attr('x1', 9).attr('x2', 44).attr('y1', yp).attr('y2', yp).attr('stroke', '#e8e8e8'));
svg.append('rect').attr('x', 9).attr('y', 1025).attr('width', 34).attr('height', 35).attr('rx', 3).attr('fill', '#2e2e2e');
icon(26, 1042, 'M0,-9L2.6,-3H9L4,1.5L5.6,8L0,4.5L-5.6,8L-4,1.5L-9,-3H-2.6Z', { stroke: '#fff' });

// tooltip over the legend
svg.append('path').attr('d', 'M20,42L26,37L32,42Z').attr('fill', 'rgba(64,64,64,.88)');
svg.append('rect').attr('x', 10).attr('y', 42).attr('width', 211).attr('height', 42).attr('rx', 3).attr('fill', 'rgba(64,64,64,.88)');
label(18, 60, 'Logged in as MahersahamOfficial', 12.4, '#dcdcdc');
label(18, 77, 'Active layout: INtraswing 1D', 12.4, '#dcdcdc');

// ── Right toolbar icons ──────────────────────────────────────
const rightIcons = [
  [66, 'M-9,-11H9V11L0,7L-9,11ZM-5,-6H5M-5,-2H5M-5,2H5'],
  [111, 'M-10,1A10,10 0 1 1 10,1A10,10 0 1 1 -10,1M-1,-4V3H-5M-12,-9L-8,-12M12,-9L8,-12'],
  [158, 'M0,-9L11,-2L0,5L-11,-2ZM-11,2L0,9L11,2'],
  [204, 'M-11,-10H9V7H-5L-11,11ZM-6,-3H-4M-1,-3H1M4,-3H6'],
  [773, 'M-14,0A14,14 0 1 1 14,0A14,14 0 1 1 -14,0M-8,0A8,8 0 1 1 8,0A8,8 0 1 1 -8,0M0,0L8,-8M-2,0A2,2 0 1 1 2,0A2,2 0 1 1 -2,0'],
  [815, 'M0,-12L11,-3L0,2L-11,-3ZM-6,1L-12,11H12L6,1'],
  [860, 'M-12,-9H12V11H-12ZM-7,-12V-6M7,-12V-6M-12,-5H12'],
  [908, 'M-9,10A2,2 0 1 1 -9.01,10M-9,4A7,7 0 0 1 -2,11M-9,-2A13,13 0 0 1 4,11M-9,-7A18,18 0 0 1 9,11'],
  [953, 'M-11,8H11V11H-11ZM-9,8V2A9,9 0 0 1 9,2V8M-3,11A3,3 0 0 0 3,11'],
  [1056, 'M-14,0A14,14 0 1 1 14,0A14,14 0 1 1 -14,0M-4,-4A4,4 0 1 1 1,0C0,1 0,3 0,4M0,8V8.2']
];
rightIcons.forEach(d => icon(1058, d[0], d[1], {}));
svg.append('circle').attr('cx', 1068).attr('cy', 192).attr('r', 8).attr('fill', '#f23645');
label(1068, 196, '1', 10.5, '#fff', 'middle');
svg.append('rect').attr('x', 1047).attr('y', 888).attr('width', 29).attr('height', 16).attr('rx', 8).attr('fill', '#f23645');
label(1061.5, 900, '99+', 11, '#fff', 'middle');
svg.append('rect').attr('x', 1055).attr('y', 934).attr('width', 21).attr('height', 16).attr('rx', 8).attr('fill', '#f23645');
label(1065.5, 946, '59', 11, '#fff', 'middle');
svg.append('circle').attr('cx', 1058).attr('cy', 998).attr('r', 17).attr('fill', '#2e2e2e');
d3.range(3).forEach(r => d3.range(3).forEach(c => svg.append('rect')
  .attr('x', 1049 + c * 6.5).attr('y', 989 + r * 6.5).attr('width', 4.5).attr('height', 4.5).attr('rx', 1).attr('fill', '#fff')));
svg.append('line').attr('x1', 1041).attr('x2', 1075).attr('y1', 1028).attr('y2', 1028).attr('stroke', '#e8e8e8');

// ── Bottom bar ───────────────────────────────────────────────
const rangeX = [79, 109, 140, 172, 204, 239, 272, 300, 328];
rangeLabels.forEach((d, i) => label(rangeX[i], 1066, d, 13, '#2a2e39', 'middle'));
svg.append('line').attr('x1', 349).attr('x2', 349).attr('y1', 1050).attr('y2', 1072).attr('stroke', '#e8e8e8');
icon(371, 1061, 'M-9,-7H9V9H-3M-9,-7V2M-5,-10V-5M5,-10V-5M-9,-3H9M-9,6H-1M-4,3L-1,6L-4,9', {});
label(962, 1066, '09:25:24 UTC+8', 12.7, '#2a2e39', 'end');
svg.append('line').attr('x1', 984).attr('x2', 984).attr('y1', 1050).attr('y2', 1072).attr('stroke', '#e8e8e8');
label(1008, 1066, 'ADJ', 13, '#2a2e39', 'middle');
icon(1000.5, 1027.5, 'M-7,0L-3.5,-6H3.5L7,0L3.5,6H-3.5ZM-2,0A2,2 0 1 1 2,0A2,2 0 1 1 -2,0', { stroke: '#2a2e39' });
</script>
</body>
</html>
